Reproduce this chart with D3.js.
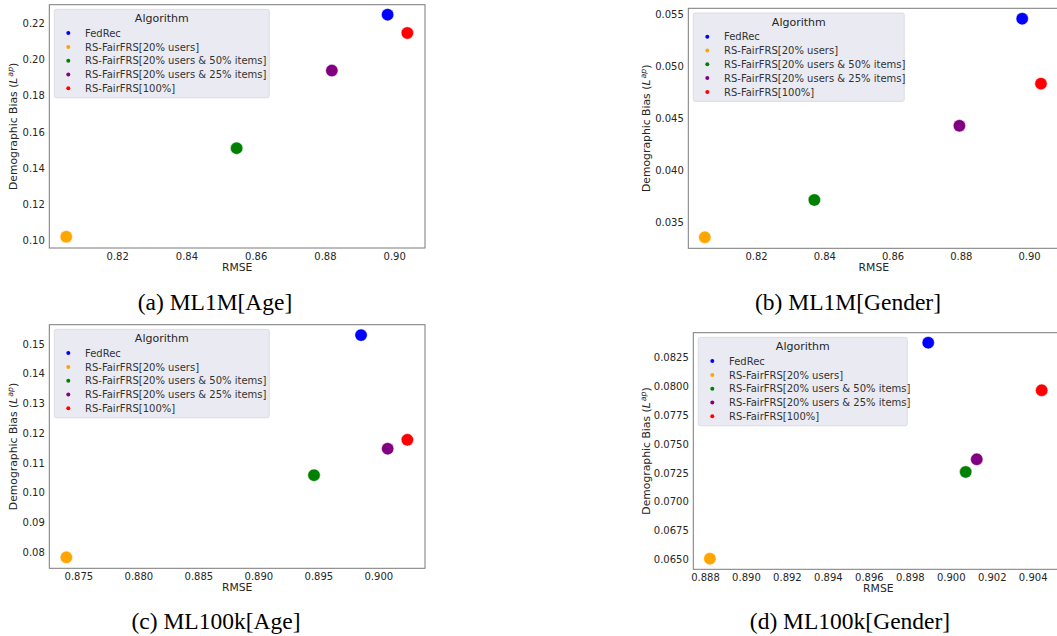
<!DOCTYPE html>
<html><head><meta charset="utf-8">
<script src="https://cdn.jsdelivr.net/npm/d3@7"></script>
<style>body{margin:0;background:#fff;overflow:hidden} svg{display:block}</style>
</head><body>
<svg id="chart" width="1057" height="636"></svg>
<script>
// ---- data ----
const algorithms = ["FedRec", "RS-FairFRS[20% users]", "RS-FairFRS[20% users & 50% items]", "RS-FairFRS[20% users & 25% items]", "RS-FairFRS[100%]"];
const colors = ["#0000ff", "#ffa500", "#008000", "#800080", "#ff0000"];

const ml1mAgeRMSE = [0.8981, 0.8053, 0.8545, 0.8820, 0.9038];
const ml1mAgeBias = [0.2246, 0.1022, 0.1510, 0.1938, 0.2145];
const ml1mGenderRMSE = [0.8980, 0.8050, 0.8371, 0.8796, 0.9035];
const ml1mGenderBias = [0.05455, 0.03356, 0.03714, 0.04427, 0.04831];
const ml100kAgeRMSE = [0.89856, 0.8740, 0.89464, 0.90078, 0.90242];
const ml100kAgeBias = [0.1530, 0.0783, 0.1059, 0.1148, 0.1178];
const ml100kGenderRMSE = [0.8989, 0.88824, 0.90073, 0.90127, 0.90444];
const ml100kGenderBias = [0.0838, 0.06505, 0.07258, 0.07368, 0.07967];

const ml1mXTicks = [0.82, 0.84, 0.86, 0.88, 0.90];
const ml1mAgeYTicks = [0.10, 0.12, 0.14, 0.16, 0.18, 0.20, 0.22];
const ml1mGenderYTicks = [0.035, 0.040, 0.045, 0.050, 0.055];
const ml100kAgeXTicks = [0.875, 0.880, 0.885, 0.890, 0.895, 0.900];
const ml100kAgeYTicks = [0.08, 0.09, 0.10, 0.11, 0.12, 0.13, 0.14, 0.15];
const ml100kGenderXTicks = [0.888, 0.890, 0.892, 0.894, 0.896, 0.898, 0.900, 0.902, 0.904];
const ml100kGenderYTicks = [0.0650, 0.0675, 0.0700, 0.0725, 0.0750, 0.0775, 0.0800, 0.0825];

const captions = ["(a) ML1M[Age]", "(b) ML1M[Gender]", "(c) ML100k[Age]", "(d) ML100k[Gender]"];

// ---- layout ----
const panels = [
  {rmse: ml1mAgeRMSE, bias: ml1mAgeBias, xTicks: ml1mXTicks, yTicks: ml1mAgeYTicks, xFmt: ".2f", yFmt: ".2f",
   box: [49.3, 4.7, 425, 248], xDom: [0.8004, 0.9089], yDom: [0.096, 0.2301], legendW: 215, capX: 215, capY: 310, ylabX: 17},
  {rmse: ml1mGenderRMSE, bias: ml1mGenderBias, xTicks: ml1mXTicks, yTicks: ml1mGenderYTicks, xFmt: ".2f", yFmt: ".3f",
   box: [688.3, 8.3, 1059.4, 248.3], xDom: [0.80016, 0.9089], yDom: [0.0325, 0.05555], legendW: 211, capX: 848, capY: 310, ylabX: 650},
  {rmse: ml100kAgeRMSE, bias: ml100kAgeBias, xTicks: ml100kAgeXTicks, yTicks: ml100kAgeYTicks, xFmt: ".3f", yFmt: ".2f",
   box: [49.3, 324.7, 425, 568.3], xDom: [0.87258, 0.90389], yDom: [0.0746, 0.1565], legendW: 215, capX: 216, capY: 629, ylabX: 17},
  {rmse: ml100kGenderRMSE, bias: ml100kGenderBias, xTicks: ml100kGenderXTicks, yTicks: ml100kGenderYTicks, xFmt: ".3f", yFmt: ".4f",
   box: [693.3, 332.7, 1063.4, 569.3], xDom: [0.88743, 0.9055], yDom: [0.06413, 0.08467], legendW: 209, capX: 850, capY: 629, ylabX: 650}
];

const svg = d3.select("#chart");
const FONT = "'DejaVu Sans', sans-serif";
const TXT = "#262626";

panels.forEach((p, i) => {
  const [x0, y0, x1, y1] = p.box;
  const x = d3.scaleLinear().domain(p.xDom).range([x0, x1]);
  const y = d3.scaleLinear().domain(p.yDom).range([y1, y0]);
  const g = svg.append("g");

  // axes
  const xa = g.append("g").attr("transform", `translate(0,${y1})`)
    .call(d3.axisBottom(x).tickValues(p.xTicks).tickFormat(d3.format(p.xFmt)).tickSize(0).tickPadding(5));
  const ya = g.append("g").attr("transform", `translate(${x0},0)`)
    .call(d3.axisLeft(y).tickValues(p.yTicks).tickFormat(d3.format(p.yFmt)).tickSize(0).tickPadding(4.5));
  [xa, ya].forEach(a => {
    a.select(".domain").remove();
    a.selectAll("text").attr("font-family", FONT).attr("font-size", 10).attr("fill", TXT);
  });

  // frame
  g.append("rect").attr("x", x0).attr("y", y0).attr("width", x1 - x0).attr("height", y1 - y0)
    .attr("fill", "none").attr("stroke", "#7a7a7a").attr("stroke-width", 1);

  // axis labels
  g.append("text").attr("x", (x0 + x1) / 2).attr("y", y1 + 22.5).attr("text-anchor", "middle")
    .attr("font-family", FONT).attr("font-size", 10.8).attr("fill", TXT).text("RMSE");
  const yl = g.append("text").attr("transform", `translate(${p.ylabX},${(y0 + y1) / 2}) rotate(-90)`)
    .attr("text-anchor", "middle").attr("font-family", FONT).attr("font-size", 10.8).attr("fill", TXT);
  yl.append("tspan").text("Demographic Bias (");
  yl.append("tspan").attr("font-style", "italic").text("L");
  yl.append("tspan").attr("font-style", "italic").attr("font-size", 7.8).attr("dy", -4.2).attr("dx", 1).text("ap");
  yl.append("tspan").attr("dy", 4.2).text(")");

  // legend
  const lx = x0 + 5, ly = y0 + 4.7, lh = 88.4;
  const lg = g.append("g");
  lg.append("rect").attr("x", lx).attr("y", ly).attr("width", p.legendW).attr("height", lh)
    .attr("rx", 2).attr("fill", "#eaeaf2").attr("stroke", "#d6d6de").attr("stroke-width", 0.8);
  lg.append("text").attr("x", lx + p.legendW / 2).attr("y", ly + 12.5).attr("text-anchor", "middle")
    .attr("font-family", FONT).attr("font-size", 11).attr("fill", TXT).text("Algorithm");
  algorithms.forEach((name, k) => {
    const ry = ly + 23.7 + k * 13.8;
    lg.append("circle").attr("cx", lx + 14).attr("cy", ry).attr("r", 2).attr("fill", colors[k]);
    lg.append("text").attr("x", lx + 30.7).attr("y", ry + 3.6)
      .attr("font-family", FONT).attr("font-size", 10).attr("fill", "#333").text(name);
  });

  // points
  g.append("g").selectAll("circle").data(algorithms).join("circle")
    .attr("cx", (d, k) => x(p.rmse[k]))
    .attr("cy", (d, k) => y(p.bias[k]))
    .attr("r", 6.2)
    .attr("fill", (d, k) => colors[k])
    .attr("stroke", "#fff").attr("stroke-width", 0.5);

  // caption
  svg.append("text").attr("x", p.capX).attr("y", p.capY).attr("text-anchor", "middle")
    .attr("font-family", "'Liberation Serif', 'Times New Roman', serif").attr("font-size", 23.5)
    .attr("fill", "#000").text(captions[i]);
});
</script>
</body></html>
